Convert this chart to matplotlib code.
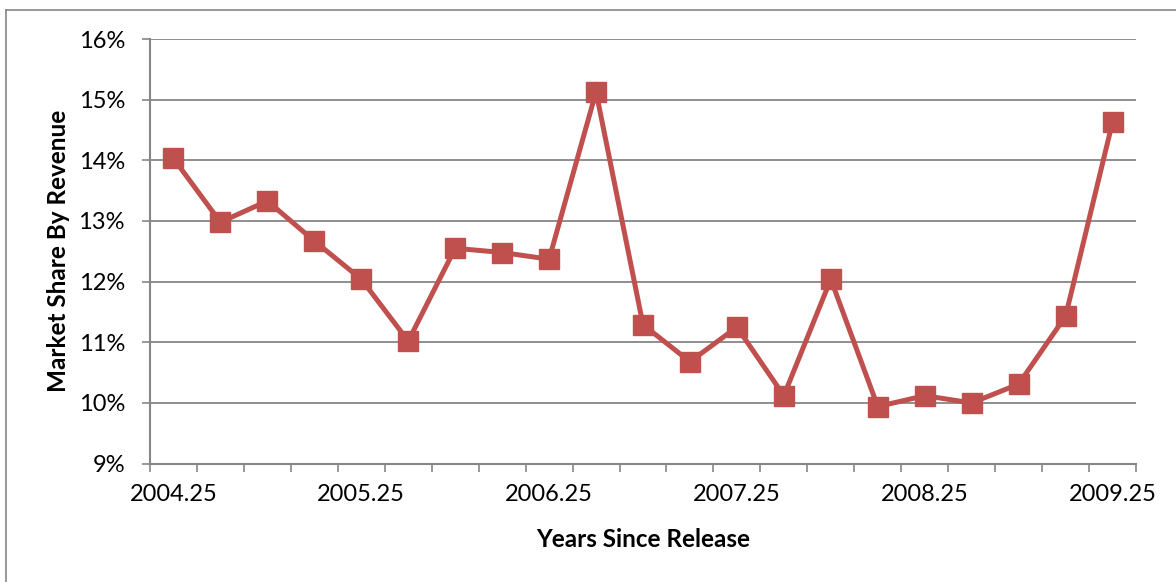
import matplotlib
matplotlib.use("Agg")
import matplotlib.pyplot as plt
from matplotlib.lines import Line2D
from matplotlib.ticker import FixedLocator, FuncFormatter

# quarterly market share by revenue, in percent
quarters = [
    "2004.25", "2004.5", "2004.75", "2005", "2005.25", "2005.5", "2005.75",
    "2006", "2006.25", "2006.5", "2006.75", "2007", "2007.25", "2007.5",
    "2007.75", "2008", "2008.25", "2008.5", "2008.75", "2009", "2009.25",
]
share = [
    14.03, 12.98, 13.33, 12.67, 12.04, 11.02, 12.55, 12.48, 12.37, 15.13, 11.29,
    10.68, 11.25, 10.12, 12.04, 9.94, 10.12, 10.0, 10.31, 11.43, 14.63,
]
y_ticks = [9, 10, 11, 12, 13, 14, 15, 16]

RED = "#C0504D"
GRID = "#868686"

plt.rcParams["font.family"] = ["Lato", "DejaVu Sans"]

fig = plt.figure(figsize=(11.76, 5.82), dpi=100)
ax = fig.add_axes([150 / 1176, 1 - 463.6 / 582, 986 / 1176, 424.6 / 582])

x = list(range(len(quarters)))
ax.plot(x, share, color=RED, lw=3.6, marker="s", markersize=15,
        markerfacecolor=RED, markeredgecolor=RED, solid_joinstyle="miter", zorder=3)

ax.set_xlim(-0.5, len(quarters) - 0.5)
ax.set_ylim(y_ticks[0], y_ticks[-1])

# labels every four quarters, tick marks between categories
ax.xaxis.set_major_locator(FixedLocator(x[::4]))
ax.set_xticklabels(quarters[::4])
ax.xaxis.set_minor_locator(FixedLocator([i - 0.5 for i in range(len(quarters) + 1)]))
ax.tick_params(axis="x", which="major", length=0, pad=15, labelsize=17)
ax.tick_params(axis="x", which="minor", length=6, width=1.2, color=GRID, direction="out")

ax.set_yticks(y_ticks)
ax.yaxis.set_major_formatter(FuncFormatter(lambda v, _: f"{v:.0f}%"))
ax.tick_params(axis="y", length=6, width=1.2, color=GRID, pad=12, labelsize=17)

ax.grid(axis="y", color=GRID, lw=1.3)
ax.set_axisbelow(True)
for side in ("top", "right"):
    ax.spines[side].set_visible(False)
for side in ("left", "bottom"):
    ax.spines[side].set_color(GRID)
    ax.spines[side].set_linewidth(1.5)

ax.set_xlabel("Years Since Release", fontsize=17.5, fontweight="bold")
ax.xaxis.set_label_coords(0.5, -0.152)
ax.set_ylabel("Market Share By Revenue", fontsize=17.5, fontweight="bold")
ax.yaxis.set_label_coords(-0.081, 0.5)

# chart frame, only left and top edges fall inside the image
fig.add_artist(Line2D([6 / 1176, 6 / 1176], [0, 572 / 582], color=GRID, lw=1.2))
fig.add_artist(Line2D([6 / 1176, 1], [572 / 582, 572 / 582], color=GRID, lw=1.2))

fig.savefig("out.png", dpi=100)
